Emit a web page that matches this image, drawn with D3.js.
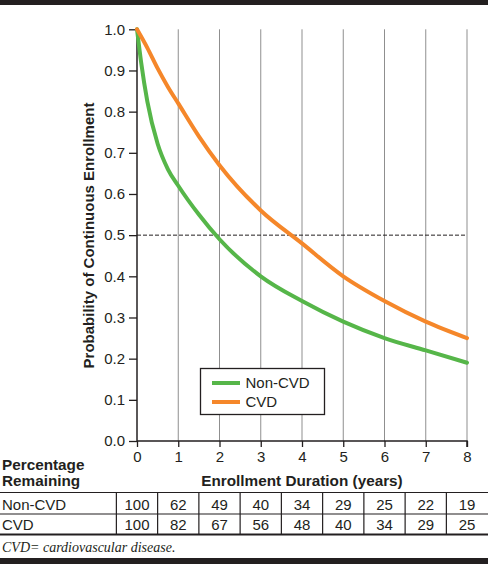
<!DOCTYPE html>
<html><head><meta charset="utf-8">
<script src="https://cdn.jsdelivr.net/npm/d3@7"></script>
<style>body{margin:0;background:#fff}svg{display:block}</style>
</head><body><svg id="c" width="488" height="564"></svg>
<script>
const years = [0,1,2,3,4,5,6,7,8];
const nonCvdPct = [100,62,49,40,34,29,25,22,19];
const cvdPct = [100,82,67,56,48,40,34,29,25];
// curve samples
const nonCvdX = [0,0.1,0.25,0.5,0.75,1,1.5,2,3,4,5,6,7,8];
const nonCvdCurve = [1.0,0.92,0.825,0.722,0.66,0.62,0.55,0.49,0.40,0.34,0.29,0.25,0.22,0.19];
const cvdX = [0,0.25,0.5,0.75,1,1.5,2,3,4,5,6,7,8];
const cvdCurve = [1.0,0.955,0.905,0.86,0.82,0.74,0.67,0.56,0.48,0.40,0.34,0.29,0.25];
const yTicks = [0,0.1,0.2,0.3,0.4,0.5,0.6,0.7,0.8,0.9,1.0];
const seriesNames = ["Non-CVD","CVD"];
const colors = ["#56b649","#f5872a"];
const ink = "#231f20";
const sans = "'Liberation Sans', Arial, sans-serif";
const fs = 15;

const svg = d3.select("#c");
const x = d3.scaleLinear().domain([0,8]).range([137,467]);
const y = d3.scaleLinear().domain([0,1]).range([441,29.3]);

svg.append("rect").attr("x",0).attr("y",0).attr("width",488).attr("height",5).attr("fill",ink);
svg.append("rect").attr("x",0).attr("y",558).attr("width",488).attr("height",6).attr("fill",ink);

// grid
svg.append("g").selectAll("line").data(years.slice(1)).join("line")
  .attr("x1",d=>x(d)).attr("x2",d=>x(d)).attr("y1",y(1)).attr("y2",y(0))
  .attr("stroke","#8f8f8f").attr("stroke-width",1);
svg.append("line").attr("x1",x(0)).attr("x2",x(8)).attr("y1",y(0.5)).attr("y2",y(0.5))
  .attr("stroke",ink).attr("stroke-width",1).attr("stroke-dasharray","4,2");

// axes
const ya = svg.append("g").attr("transform",`translate(${x(0)},0)`)
  .call(d3.axisLeft(y).tickValues(yTicks).tickFormat(d3.format(".1f")).tickSize(8).tickPadding(4));
const xa = svg.append("g").attr("transform",`translate(0,${y(0)})`)
  .call(d3.axisBottom(x).tickValues(years).tickFormat(d3.format("d")).tickSize(6).tickPadding(4));
[ya,xa].forEach(a=>{
  a.select(".domain").attr("stroke",ink).attr("stroke-width",1.5);
  a.selectAll(".tick line").attr("stroke",ink).attr("stroke-width",1.3);
  a.selectAll("text").attr("fill",ink).attr("font-family",sans).attr("font-size",fs);
});
ya.select(".domain").attr("d",`M-0,${y(1)}V${y(0)}`);
xa.select(".domain").attr("d",`M${x(0)},0H${x(8)}V6`);

// curves
const line = d3.line().x(d=>x(d[0])).y(d=>y(d[1])).curve(d3.curveMonotoneX);
[[nonCvdX,nonCvdCurve],[cvdX,cvdCurve]].forEach(([xs,s],i)=>{
  svg.append("path").attr("d",line(xs.map((v,j)=>[v,s[j]])))
    .attr("fill","none").attr("stroke",colors[i]).attr("stroke-width",4).attr("stroke-linecap","round");
});

// titles
svg.append("text").attr("transform",`translate(94,235.5) rotate(-90)`).attr("text-anchor","middle")
  .attr("font-family",sans).attr("font-weight","bold").attr("font-size",15).attr("fill",ink)
  .text("Probability of Continuous Enrollment");
svg.append("text").attr("x",302).attr("y",486).attr("text-anchor","middle")
  .attr("font-family",sans).attr("font-weight","bold").attr("font-size",15.3).attr("fill",ink)
  .text("Enrollment Duration (years)");
svg.append("text").attr("x",2).attr("y",469.5).attr("font-family",sans).attr("font-weight","bold").attr("font-size",15.3).attr("fill",ink).text("Percentage");
svg.append("text").attr("x",2).attr("y",486).attr("font-family",sans).attr("font-weight","bold").attr("font-size",15.3).attr("fill",ink).text("Remaining");

// legend
const lg = svg.append("g");
lg.append("rect").attr("x",200.5).attr("y",368.5).attr("width",124).attr("height",46)
  .attr("fill","#fff").attr("stroke",ink).attr("stroke-width",1.3);
seriesNames.forEach((n,i)=>{
  const yy = 383 + i*19;
  lg.append("line").attr("x1",212).attr("x2",240).attr("y1",yy).attr("y2",yy).attr("stroke",colors[i]).attr("stroke-width",4);
  lg.append("text").attr("x",245.5).attr("y",yy+5.3).attr("font-family",sans).attr("font-size",fs).attr("fill",ink).text(n);
});

// table
const step = x(1)-x(0);
const tb = svg.append("g");
tb.append("line").attr("x1",0).attr("x2",488).attr("y1",492.5).attr("y2",492.5).attr("stroke",ink).attr("stroke-width",1.2);
tb.append("line").attr("x1",0).attr("x2",488).attr("y1",514).attr("y2",514).attr("stroke",ink).attr("stroke-width",1.2);
tb.append("line").attr("x1",0).attr("x2",488).attr("y1",534.5).attr("y2",534.5).attr("stroke",ink).attr("stroke-width",2);
tb.selectAll(".vl").data(years).join("line").attr("class","vl")
  .attr("x1",d=>x(d)-step/2).attr("x2",d=>x(d)-step/2).attr("y1",492.5).attr("y2",534)
  .attr("stroke",ink).attr("stroke-width",1.2);
[nonCvdPct,cvdPct].forEach((row,i)=>{
  const by = 509.5 + i*20.5;
  tb.append("text").attr("x",2).attr("y",by).attr("font-family",sans).attr("font-size",fs).attr("fill",ink).text(seriesNames[i]);
  tb.selectAll(".r"+i).data(row).join("text").attr("class","r"+i)
    .attr("x",(d,j)=>x(years[j])).attr("y",by).attr("text-anchor","middle")
    .attr("font-family",sans).attr("font-size",fs).attr("fill",ink).text(d=>d);
});

svg.append("text").attr("x",2).attr("y",551.5).attr("font-family","'Liberation Serif', 'Times New Roman', serif")
  .attr("font-style","italic").attr("font-size",14).attr("fill",ink).text("CVD= cardiovascular disease.");
</script></body></html>
